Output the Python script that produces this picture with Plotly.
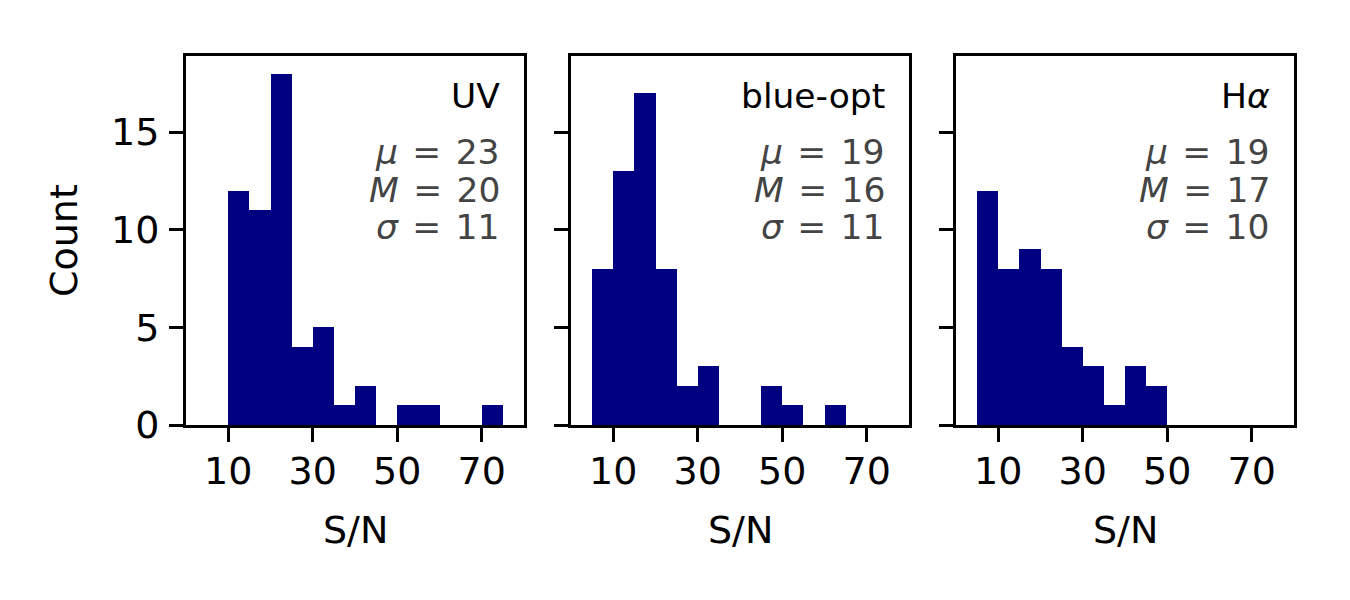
import plotly.graph_objects as go

# ---- data ----
bin_width = 5
uv_start = 10
uv_counts = [12, 11, 18, 4, 5, 1, 2, 0, 1, 1, 0, 0, 1]
blue_start = 5
blue_counts = [8, 13, 17, 8, 2, 3, 0, 0, 2, 1, 0, 1]
ha_start = 5
ha_counts = [12, 8, 9, 8, 4, 3, 1, 3, 2]

panel_names = ["UV", "blue-opt", "H<i>α</i>"]
mu_vals = [23, 19, 19]
median_vals = [20, 16, 17]
sigma_vals = [11, 11, 10]

x_ticks = [10, 30, 50, 70]
y_ticks = [0, 5, 10, 15]
x_range = [0, 80]
y_range = [0, 18.9]

W, H = 1350, 600
FONT = "DejaVu Sans"
BAR = "#000080"
GRAY = "#444444"

panels_px = [(186, 524), (571, 909), (956, 1294)]
top_px, bot_px = 56, 425

fig = go.Figure()
series = [(uv_start, uv_counts), (blue_start, blue_counts), (ha_start, ha_counts)]
for i, (start, counts) in enumerate(series):
    centers = [start + bin_width * (k + 0.5) for k in range(len(counts))]
    ax = "" if i == 0 else str(i + 1)
    fig.add_trace(go.Bar(
        x=centers, y=counts, width=[bin_width] * len(counts),
        marker=dict(color=BAR, line=dict(width=0)),
        xaxis="x" + ax, yaxis="y" + ax, showlegend=False,
        hoverinfo="skip",
    ))

layout = dict(
    width=W, height=H,
    margin=dict(l=0, r=0, t=0, b=0, autoexpand=False),
    paper_bgcolor="white", plot_bgcolor="white",
    font=dict(family=FONT, size=38, color="black"),
    bargap=0, showlegend=False,
)

axis_common = dict(
    showline=True, linecolor="black", linewidth=3, mirror=True,
    ticks="outside", ticklen=14, tickwidth=3, tickcolor="black",
    showgrid=False, zeroline=False, fixedrange=True, automargin=False,
    tickfont=dict(family=FONT, size=38, color="black"),
)

SP = "\u200a \u200a"  # slightly wider spacing around '=' like mathtext

annotations = []
for i, (l, r) in enumerate(panels_px):
    ax = "" if i == 0 else str(i + 1)
    xd = [l / W, r / W]
    yd = [1 - bot_px / H, 1 - top_px / H]
    layout["xaxis" + ax] = dict(axis_common, domain=xd, range=x_range,
                                tickmode="array", tickvals=x_ticks,
                                ticktext=[str(v) for v in x_ticks],
                                ticklabelstandoff=-4,
                                anchor="y" + ax)
    layout["yaxis" + ax] = dict(axis_common, domain=yd, range=y_range,
                                tickmode="array", tickvals=y_ticks,
                                ticktext=[str(v) for v in y_ticks],
                                showticklabels=(i == 0),
                                ticklabelstandoff=2,
                                anchor="x" + ax)

    xr = 0.936
    def ydom(px):
        return (bot_px - px) / (bot_px - top_px)
    annotations.append(dict(
        xref="x" + ax + " domain", yref="y" + ax + " domain",
        x=xr, y=ydom(96), xanchor="right", yanchor="middle",
        text=panel_names[i], showarrow=False,
        font=dict(family=FONT, size=34.5, color="black")))
    lines = [f"<i>μ</i>\u200a = \u200a{mu_vals[i]}",
             f"<i>M</i>\u200a = \u200a{median_vals[i]}",
             f"<i>σ</i>\u200a = \u200a{sigma_vals[i]}"]
    for txt, ypx in zip(lines, [152, 189.5, 227]):
        annotations.append(dict(
            xref="x" + ax + " domain", yref="y" + ax + " domain",
            x=xr, y=ydom(ypx), xanchor="right", yanchor="middle",
            text=txt, showarrow=False,
            font=dict(family=FONT, size=34.5, color=GRAY)))
    annotations.append(dict(
        xref="paper", yref="paper", x=(l + r) / 2 / W, y=1 - 530 / H,
        xanchor="center", yanchor="middle", text="S/N", showarrow=False,
        font=dict(family=FONT, size=38, color="black")))

annotations.append(dict(
    xref="paper", yref="paper", x=63.5 / W, y=1 - 240.5 / H,
    xanchor="center", yanchor="middle", text="Count", textangle=-90,
    showarrow=False, font=dict(family=FONT, size=38, color="black")))

layout["annotations"] = annotations
fig.update_layout(**layout)
fig.write_html("out.html", config={"displayModeBar": False},
               post_script="document.body.style.margin='0';")
